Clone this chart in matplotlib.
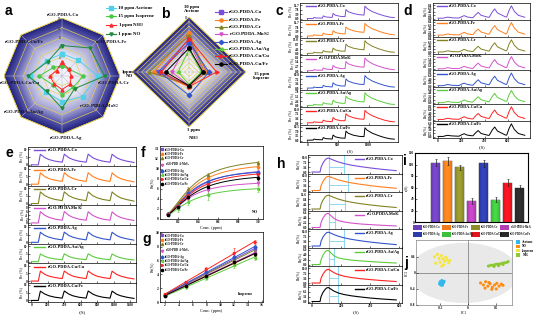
import numpy as np
import matplotlib
matplotlib.use('Agg')
import matplotlib.pyplot as plt
from matplotlib.patches import Polygon, Ellipse, Rectangle
from matplotlib.colors import LinearSegmentedColormap, to_rgb
from matplotlib.lines import Line2D

plt.rcParams['font.family'] = ['Liberation Serif', 'DejaVu Serif']
plt.rcParams['font.weight'] = 'bold'
plt.rcParams['mathtext.fontset'] = 'stix'
plt.rcParams['axes.linewidth'] = 0.5

# ======================= DATA =======================
sensors = ['rGO-PDDA-Co', 'rGO-PDDA-Fe', 'rGO-PDDA-Cr', 'rGO-PDDA-MoS$_2$',
           'rGO-PDDA-Ag', 'rGO-PDDA-Au/Ag', 'rGO-PDDA-Cu/Cu', 'rGO-PDDA-Cu/Fe']
colors = ['#7a4fd6', '#ff7f1e', '#828224', '#d452cc', '#3355cc', '#5ccc3c', '#ff2222', '#000000']
markers = ['s', 'o', '^', 'v', 'D', '<', '>', 'o']

# panel a : response of the 8 sensors to each gas
a_gases = ['10 ppm Acetone', '15 ppm Isoprene', '1 ppm NH$_3$', '1 ppm NO']
a_acetone = [4.6, 4.7, 7.4, 6.0, 5.3, 4.7, 6.7, 4.5]
a_isoprene = [2.1, 2.0, 4.4, 3.3, 3.9, 2.6, 4.7, 2.5]
a_nh3 = [2.8, 2.0, 1.9, 2.4, 2.8, 2.3, 2.5, 1.6]
a_no = [6.3, 8.2, 8.8, 3.7, 6.7, 4.5, 7.0, 4.2]
a_ticks = [2, 4, 6, 8, 10, 12]

# panel b : per sensor [Acetone, Isoprene, NH3, NO]
b_axes = ['10 ppm\nAcetone', '15 ppm\nIsoprene', '1 ppm\nNH$_3$', '1ppm\nNO']
b_resp = [[7.1, 3.8, 3.0, 6.5],
          [8.6, 3.5, 3.2, 7.4],
          [7.9, 3.2, 2.8, 8.4],
          [6.7, 3.0, 3.0, 3.6],
          [6.4, 4.2, 5.1, 6.2],
          [4.9, 2.6, 2.7, 2.3],
          [7.3, 5.8, 3.2, 5.8],
          [5.2, 2.9, 3.0, 4.9]]
b_ticks = [4, 6, 8, 10, 12]

# panel c : acetone dynamic response
c_time = [0, 95, 110, 140, 245, 260, 300, 405, 420, 460, 540, 615, 630, 665, 750, 850,
          925, 940, 975, 1060, 1160, 1260, 1350, 1420]
c_resp = [
    [0.3, 0.4, 1.3, 0.9, 0.7, 2.6, 1.7, 1.3, 4.7, 3.1, 2.2, 2.0, 8.0, 6.2, 4.6, 3.6, 3.3, 10.8, 8.8, 6.2, 4.2, 2.6, 1.5, 1.2],
    [0.3, 0.4, 1.4, 1.0, 0.8, 2.7, 1.8, 1.4, 4.8, 3.2, 2.3, 2.1, 7.9, 6.3, 4.7, 3.7, 3.4, 10.9, 8.9, 6.4, 4.4, 2.8, 1.7, 1.3],
    [0.3, 0.5, 1.5, 1.0, 0.8, 2.9, 1.9, 1.5, 5.3, 3.5, 2.5, 2.3, 9.0, 7.0, 5.2, 4.1, 3.7, 12.2, 9.9, 7.0, 4.7, 2.9, 1.7, 1.4],
    [0.2, 0.3, 0.9, 0.6, 0.5, 1.8, 1.2, 0.9, 3.3, 2.2, 1.5, 1.4, 5.6, 4.3, 3.2, 2.5, 2.3, 7.6, 6.2, 4.3, 2.9, 1.8, 1.1, 0.8],
    [0.3, 0.4, 1.2, 0.8, 0.7, 2.4, 1.6, 1.2, 4.4, 2.9, 2.0, 1.9, 7.4, 5.8, 4.3, 3.3, 3.1, 10.0, 8.2, 5.8, 3.9, 2.4, 1.4, 1.1],
    [0.2, 0.3, 0.9, 0.6, 0.5, 1.8, 1.2, 0.9, 3.2, 2.1, 1.5, 1.4, 5.4, 4.2, 3.1, 2.4, 2.2, 7.3, 6.0, 4.2, 2.9, 1.8, 1.0, 0.8],
    [0.3, 0.4, 1.2, 0.8, 0.7, 2.4, 1.6, 1.2, 4.4, 2.9, 2.0, 1.9, 7.4, 5.8, 4.3, 3.3, 3.1, 10.0, 8.2, 5.8, 3.9, 2.4, 1.4, 1.1],
    [0.3, 0.4, 1.2, 0.8, 0.6, 2.3, 1.5, 1.2, 4.2, 2.8, 2.0, 1.8, 7.2, 5.6, 4.1, 3.2, 3.0, 9.7, 7.9, 5.6, 3.8, 2.3, 1.4, 1.1]]
c_top = [11.7, 11.7, 13.0, 8.1, 10.8, 7.8, 10.8, 10.5]

# panel d : NO dynamic response
d_time = [0, 45, 65, 85, 105, 130, 180, 205, 225, 250, 290, 300, 325, 345, 370, 430, 440,
          465, 487, 510, 580, 590, 610, 630, 655, 690, 745]
d_resp = [
    [0.2, 0.2, 0.6, 0.9, 0.6, 0.4, 0.3, 1.2, 1.8, 1.0, 0.5, 0.5, 2.5, 3.8, 2.0, 0.8, 0.8, 4.0, 6.0, 3.5, 1.0, 1.0, 5.0, 7.9, 4.5, 2.0, 0.8],
    [0.2, 0.2, 0.6, 0.9, 0.6, 0.4, 0.3, 1.2, 1.9, 1.0, 0.5, 0.5, 2.6, 3.9, 2.1, 0.8, 0.8, 4.1, 6.1, 3.6, 1.0, 1.0, 5.1, 8.0, 4.6, 2.0, 0.8],
    [0.2, 0.2, 0.6, 0.9, 0.6, 0.4, 0.3, 1.1, 1.8, 1.0, 0.5, 0.5, 2.4, 3.7, 2.0, 0.8, 0.8, 3.9, 5.9, 3.4, 1.0, 1.0, 5.0, 7.8, 4.4, 1.9, 0.8],
    [0.2, 0.2, 0.5, 0.8, 0.5, 0.3, 0.3, 1.0, 1.5, 0.9, 0.4, 0.4, 2.1, 3.2, 1.7, 0.7, 0.7, 3.4, 5.1, 3.0, 0.9, 0.9, 4.3, 6.7, 3.8, 1.7, 0.7],
    [0.2, 0.2, 0.6, 0.9, 0.6, 0.4, 0.3, 1.2, 1.7, 1.0, 0.5, 0.5, 2.4, 3.7, 1.9, 0.8, 0.8, 3.9, 5.8, 3.4, 1.0, 1.0, 4.9, 7.7, 4.4, 1.9, 0.8],
    [0.1, 0.1, 0.4, 0.7, 0.4, 0.3, 0.2, 0.9, 1.4, 0.8, 0.4, 0.4, 1.9, 2.9, 1.5, 0.6, 0.6, 3.0, 4.5, 2.6, 0.8, 0.8, 3.8, 5.9, 3.4, 1.5, 0.6],
    [0.2, 0.2, 0.6, 0.9, 0.6, 0.4, 0.3, 1.2, 1.8, 1.0, 0.5, 0.5, 2.5, 3.7, 2.0, 0.8, 0.8, 3.9, 5.8, 3.4, 1.0, 1.0, 4.8, 7.7, 4.3, 1.9, 0.8],
    [0.1, 0.1, 0.4, 0.6, 0.4, 0.3, 0.2, 0.9, 1.3, 0.7, 0.4, 0.4, 1.8, 2.7, 1.4, 0.6, 0.6, 2.9, 4.3, 2.5, 0.7, 0.7, 3.6, 5.7, 3.2, 1.4, 0.6]]
d_top = [8.4, 8.4, 8.4, 7.2, 8.0, 6.4, 8.0, 6.0]

# panel e : repeatability
e_time = [0, 85, 110, 130, 165, 215, 285, 375, 400, 420, 455, 505, 575, 665, 690, 710,
          745, 795, 865, 955, 980, 1000, 1035, 1085, 1155, 1245]
e_resp = [
    [0, 0, 6.8, 6.0, 4.6, 3.4, 2.4, 1.7, 6.9, 6.0, 4.6, 3.4, 2.4, 1.7, 6.9, 6.0, 4.6, 3.4, 2.4, 1.7, 6.8, 6.0, 4.6, 3.4, 2.4, 1.5],
    [0, 0, 7.3, 6.4, 4.9, 3.6, 2.6, 1.8, 7.4, 6.5, 5.0, 3.7, 2.6, 1.8, 7.4, 6.5, 5.0, 3.7, 2.6, 1.8, 7.3, 6.4, 4.9, 3.6, 2.5, 1.5],
    [0, 0, 7.5, 6.6, 5.1, 3.8, 2.7, 1.9, 7.6, 6.7, 5.1, 3.8, 2.7, 1.9, 7.6, 6.7, 5.1, 3.8, 2.7, 1.9, 7.5, 6.6, 5.1, 3.7, 2.6, 1.6],
    [0, 0, 5.8, 5.1, 3.9, 2.9, 2.0, 1.4, 5.9, 5.2, 3.9, 2.9, 2.0, 1.4, 5.8, 5.1, 3.9, 2.9, 2.0, 1.4, 5.7, 5.0, 3.8, 2.8, 2.0, 1.3],
    [0, 0, 6.5, 5.7, 4.4, 3.3, 2.3, 1.6, 6.6, 5.8, 4.4, 3.3, 2.3, 1.6, 6.6, 5.8, 4.4, 3.3, 2.3, 1.6, 6.5, 5.7, 4.4, 3.2, 2.3, 1.4],
    [0, 0, 5.0, 4.4, 3.4, 2.5, 1.8, 1.3, 5.1, 4.5, 3.4, 2.5, 1.8, 1.3, 5.1, 4.5, 3.4, 2.5, 1.8, 1.3, 5.0, 4.4, 3.4, 2.5, 1.7, 1.1],
    [0, 0, 6.4, 5.6, 4.3, 3.2, 2.3, 1.6, 6.5, 5.7, 4.4, 3.2, 2.3, 1.6, 6.5, 5.7, 4.4, 3.2, 2.3, 1.6, 6.4, 5.6, 4.3, 3.2, 2.2, 1.4],
    [0, 0, 6.0, 5.3, 4.1, 3.0, 2.1, 1.5, 6.1, 5.4, 4.1, 3.0, 2.1, 1.5, 6.1, 5.4, 4.1, 3.0, 2.1, 1.5, 6.0, 5.3, 4.0, 3.0, 2.1, 1.3]]
e_ticks = [[0, 5, 10]] * 3 + [[0, 2, 4, 6, 8]] + [[0, 5, 10]] * 4

# panel f : NO calibration
f_conc = [0.1, 0.2, 0.3, 0.5, 1.0]
f_resp = [[1.0, 2.6, 5.0, 7.3, 9.5],
          [1.1, 2.9, 5.6, 8.2, 10.4],
          [1.2, 3.1, 6.0, 8.8, 11.3],
          [0.9, 2.3, 4.2, 5.8, 7.2],
          [1.0, 2.7, 5.2, 7.5, 9.3],
          [0.8, 2.0, 3.4, 4.8, 6.1],
          [1.0, 2.6, 4.8, 7.0, 9.0],
          [0.9, 2.4, 4.5, 6.5, 8.3]]
f_err = [[0.2, 0.3, 0.4, 0.5, 0.4],
         [0.2, 0.3, 0.4, 0.5, 0.4],
         [0.2, 0.3, 0.5, 0.5, 0.4],
         [0.2, 0.3, 0.4, 0.5, 0.4],
         [0.2, 0.3, 0.4, 0.5, 0.4],
         [0.2, 0.5, 0.5, 1.0, 0.6],
         [0.2, 0.3, 0.4, 0.5, 0.4],
         [0.2, 0.3, 0.4, 0.5, 0.4]]

# panel g : isoprene calibration
g_conc = [2, 5, 8, 12, 15]
g_resp = [[1.0, 2.6, 4.2, 6.3, 7.6],
          [0.9, 2.3, 3.8, 5.6, 6.9],
          [1.0, 2.5, 4.1, 6.1, 7.4],
          [0.9, 2.4, 3.9, 5.8, 7.0],
          [1.0, 2.7, 4.3, 6.5, 7.9],
          [0.8, 2.1, 3.5, 5.3, 6.4],
          [1.1, 2.9, 4.7, 7.0, 8.7],
          [0.9, 2.3, 3.8, 5.7, 6.9]]
g_err = [[0.1, 0.2, 0.3, 0.5, 0.3],
         [0.1, 0.2, 0.3, 0.4, 0.3],
         [0.1, 0.2, 0.3, 0.4, 0.3],
         [0.1, 0.2, 0.3, 0.4, 0.3],
         [0.1, 0.2, 0.3, 0.6, 0.3],
         [0.1, 0.2, 0.3, 0.4, 0.3],
         [0.1, 0.2, 0.4, 0.8, 0.3],
         [0.1, 0.2, 0.3, 0.4, 0.3]]

# panel h : single pulse / recovery
h_time = [0, 55, 62, 75, 90, 100, 112, 125, 150, 180, 220, 270, 330, 400, 480, 580]
h_resp = [
    [0, 0, 3.5, 6.5, 8.8, 9.8, 10.2, 9.7, 8.6, 7.4, 6.2, 5.0, 4.0, 3.0, 2.0, 1.0],
    [0, 0, 3.6, 6.6, 8.9, 9.9, 10.3, 9.9, 8.9, 7.8, 6.7, 5.6, 4.6, 3.6, 2.6, 1.6],
    [0, 0, 4.0, 7.5, 10.2, 11.3, 11.8, 11.2, 9.9, 8.5, 7.1, 5.8, 4.6, 3.5, 2.4, 1.3],
    [0, 0, 2.2, 4.2, 5.6, 6.1, 6.3, 5.6, 4.1, 3.1, 2.5, 2.0, 1.6, 1.3, 1.0, 0.7],
    [0, 0, 3.5, 6.5, 8.7, 9.7, 10.1, 9.6, 8.4, 7.2, 6.0, 4.9, 3.9, 2.9, 2.0, 1.0],
    [0, 0, 2.0, 3.8, 5.1, 5.6, 5.7, 5.0, 3.6, 2.7, 2.2, 1.8, 1.5, 1.2, 0.9, 0.6],
    [0, 0, 3.5, 6.4, 8.6, 9.6, 10.0, 9.3, 7.6, 6.2, 5.0, 4.0, 3.2, 2.5, 1.8, 1.1],
    [0, 0, 3.1, 5.7, 7.6, 8.5, 8.8, 8.1, 6.6, 5.4, 4.4, 3.6, 2.9, 2.2, 1.6, 1.0]]
h_top = [10.8, 10.8, 12.6, 6.6, 10.8, 6.0, 10.8, 9.3]
h_peak_t = 115
h_rec_t = [220, 248, 228, 159, 220, 152, 180, 180]
h_level = [3.8, 3.8, 4.4, 2.3, 3.7, 2.1, 3.7, 3.3]

# panel i : recovery time
i_tau = [103, 106, 95, 36, 102, 39, 68, 59]
i_err = [6, 7, 5, 5, 6, 5, 6, 6]
i_colors = ['#6b3fb8', '#f07a1a', '#8c8c2a', '#b43db4', '#2c3ca8', '#3cc03c', '#e4141e', '#2a2a2a']

# panel j : PCA
j_names = ['Acetone', 'NO', 'Isoprene', 'NH$_3$']
j_colors = ['#33b8ee', '#ff8c10', '#f5e63c', '#8cc832']
ac_x = [-0.50, -0.48, -0.46, -0.47, -0.45, -0.49, -0.44, -0.48, -0.46, -0.43, -0.51, -0.47]
ac_y = [-0.22, -0.25, -0.23, -0.28, -0.26, -0.30, -0.24, -0.27, -0.31, -0.21, -0.27, -0.19]
no_x = [0.22, 0.27, 0.31, 0.35, 0.39, 0.43, 0.47, 0.51, 0.55, 0.59, 0.62, 0.30, 0.42, 0.50, 0.37]
no_y = [-0.25, -0.30, -0.22, -0.33, -0.27, -0.36, -0.30, -0.26, -0.33, -0.28, -0.31, -0.38, -0.41, -0.40, -0.24]
is_x = [-0.60, -0.55, -0.52, -0.48, -0.45, -0.42, -0.38, -0.35, -0.58, -0.50, -0.44, -0.40, -0.33, -0.47]
is_y = [0.40, 0.46, 0.36, 0.43, 0.35, 0.29, 0.33, 0.25, 0.24, 0.27, 0.20, 0.39, 0.31, 0.17]
nh_x = [0.36, 0.40, 0.44, 0.48, 0.52, 0.56, 0.60, 0.64, 0.68, 0.71, 0.46, 0.54, 0.62]
nh_y = [0.17, 0.19, 0.19, 0.21, 0.22, 0.22, 0.24, 0.25, 0.26, 0.28, 0.16, 0.18, 0.21]

# ======================= FIGURE =======================
W, H = 546, 322
fig = plt.figure(figsize=(W / 100, H / 100), dpi=100)


def px_axes(x0, y0, x1, y1, **kw):
    return fig.add_axes([x0 / W, 1 - y1 / H, (x1 - x0) / W, (y1 - y0) / H], **kw)


radar_cmap = LinearSegmentedColormap.from_list(
    'rad', [(0, '#f8f8fd'), (0.4, '#e2e2f2'), (0.65, '#a8a8d6'), (0.85, '#5050a8'), (1.0, '#22227a')])


def radar(x0, y0, x1, y1, nv, rmax, ring_levels, tick_levels):
    ax = px_axes(x0, y0, x1, y1)
    ax.set_xlim(-1, 1)
    ax.set_ylim(-1, 1)
    ax.axis('off')
    ang = np.deg2rad(90 - 360.0 / nv * np.arange(nv))
    vx, vy = np.cos(ang), np.sin(ang)
    nrm = ang - np.pi / nv
    ap = np.cos(np.pi / nv)
    g = np.linspace(-1, 1, 400)
    X, Y = np.meshgrid(g, g)
    D = np.max([(X * np.cos(a) + Y * np.sin(a)) / ap for a in nrm], axis=0)
    im = ax.imshow(D, extent=(-1, 1, -1, 1), origin='lower', cmap=radar_cmap,
                   vmin=0, vmax=1, aspect='auto', interpolation='bilinear')
    poly = Polygon(np.column_stack([vx, vy]), closed=True, transform=ax.transData, fill=False,
                   edgecolor='#e6d24a', lw=0.5, zorder=2)
    ax.add_patch(poly)
    im.set_clip_path(poly)
    for lev in ring_levels:
        r = lev / rmax
        ax.plot(np.append(vx, vx[0]) * r, np.append(vy, vy[0]) * r, color='#e6d24a', lw=0.45, zorder=2)
    for k in range(nv):
        ax.plot([0, vx[k]], [0, vy[k]], color='#b8b8cc', lw=0.35, zorder=2)
    for lev in tick_levels:
        ax.text(-0.02, lev / rmax - 0.02, str(lev), fontsize=2.2, ha='right', va='center',
                color='#333355', zorder=3)
    return ax, vx, vy


# ---- panel a ----
ax_a, vxa, vya = radar(4, 18, 120, 134, 8, 12.0, [2, 4, 6, 8, 10, 12], a_ticks)
a_series = [a_acetone, a_isoprene, a_nh3, a_no]
a_cols = ['#52d0e8', '#46c846', '#ff2a2a', '#1f8a3c']
a_mk = ['s', 'o', '^', 'v']
for vals, c, m in zip(a_series, a_cols, a_mk):
    r = np.array(vals) / 12.0
    xs = np.append(r * vxa, r[0] * vxa[0])
    ys = np.append(r * vya, r[0] * vya[0])
    ax_a.plot(xs, ys, color=c, lw=0.7, marker=m, ms=2.2, zorder=5)

# ---- panel b ----
ax_b, vxb, vyb = radar(132, 17, 246, 127, 4, 12.0, list(range(1, 13)), b_ticks)
for i, vals in enumerate(b_resp):
    r = np.array(vals) / 12.0
    xs = np.append(r * vxb, r[0] * vxb[0])
    ys = np.append(r * vyb, r[0] * vyb[0])
    ax_b.plot(xs, ys, color=colors[i], lw=0.7, marker=markers[i], ms=2.3, zorder=5)


# ---- stacked row helpers ----
def stack_axes(x0, x1, y0, y1, n):
    h = (y1 - y0) / n
    return [px_axes(x0, y0 + i * h, x1, y0 + (i + 1) * h) for i in range(n)]


def row_style(ax, yt, fmt, ylab, last, xt, xl, top):
    ax.set_xlim(*xl)
    ax.set_ylim(-0.1 * top, 1.15 * top)
    ax.set_yticks(yt)
    ax.set_yticklabels([fmt.format(v) for v in yt])
    ax.set_xticks(xt)
    ax.tick_params(direction='in', length=1.2, width=0.4, pad=0.6, labelsize=2.4)
    if not last:
        ax.tick_params(labelbottom=False)
    ax.set_ylabel(ylab, fontsize=2.8, labelpad=0.6)
    for s in ax.spines.values():
        s.set_linewidth(0.5)


def row_legend(ax, label, color, x0, y0, fs=3.0):
    ax.plot([x0, x0 + 0.1], [y0, y0], transform=ax.transAxes, color=color, lw=1.0)
    ax.text(x0 + 0.12, y0, label, transform=ax.transAxes, fontsize=fs, va='center', ha='left')


# ---- panel c ----
ax_c = stack_axes(300, 398, 3, 142, 8)
for i, ax in enumerate(ax_c):
    ax.plot(c_time, c_resp[i], color=colors[i], lw=0.7)
    row_style(ax, np.linspace(0, c_top[i], 4), '{:.1f}', 'Re (%)', i == 7, [0, 500, 1000],
              (-120, 1480), c_top[i])
    row_legend(ax, sensors[i], colors[i], 0.06, 0.8)
ax_c[-1].set_xlabel('t(S)', fontsize=3.2, labelpad=1.5)

# ---- panel d ----
ax_d = stack_axes(433, 530, 3, 138, 8)
for i, ax in enumerate(ax_d):
    ax.plot(d_time, d_resp[i], color=colors[i], lw=0.7)
    row_style(ax, np.linspace(0, d_top[i], 5), '{:.1f}', 'Re(%)', i == 7, [0, 200, 400, 600],
              (-43, 790), d_top[i])
    row_legend(ax, sensors[i], colors[i], 0.04, 0.82)
ax_d[-1].set_xlabel('t(S)', fontsize=3.2, labelpad=1.5)

# ---- panel e ----
ax_e = stack_axes(28, 136, 147, 302, 8)
for i, ax in enumerate(ax_e):
    ax.plot(e_time, e_resp[i], color=colors[i], lw=0.8)
    top = 10.0 if e_ticks[i][-1] == 10 else 8.0
    row_style(ax, e_ticks[i], '{:d}', 'Re (%)', i == 7, [0, 200, 400, 600, 800, 1000, 1200],
              (-40, 1270), top)
    row_legend(ax, sensors[i], colors[i], 0.06, 0.83, fs=3.2)
ax_e[-1].set_xlabel('t(S)', fontsize=3.4, labelpad=2)


# ---- calibration helper ----
def hill_fit(x, y):
    x = np.asarray(x, float)
    y = np.asarray(y, float)
    best = None
    for K in np.linspace(0.1, 1.5, 71):
        for n in np.linspace(0.8, 3.0, 23):
            gg = x ** n / (K ** n + x ** n)
            V = (gg @ y) / (gg @ gg)
            err = ((V * gg - y) ** 2).sum()
            if best is None or err < best[0]:
                best = (err, V, K, n)
    return best[1:]


def cal_style(ax, xl, yl, xt, yt):
    ax.set_xlim(*xl)
    ax.set_ylim(*yl)
    ax.set_xticks(xt)
    ax.set_yticks(yt)
    ax.tick_params(direction='in', length=1.3, width=0.4, pad=0.8, labelsize=2.6)
    ax.set_xlabel('Conc. (ppm)', fontsize=3.2, labelpad=1.2)
    ax.set_ylabel('Re(%)', fontsize=3.0, labelpad=1.0)


# ---- panel f ----
ax_f = px_axes(160, 146, 263, 219)
xf = np.linspace(min(f_conc), max(f_conc), 100)
for i in range(8):
    V, K, n = hill_fit(f_conc, f_resp[i])
    ax_f.plot(xf, V * xf ** n / (K ** n + xf ** n), color=colors[i], lw=0.7)
    ax_f.errorbar(f_conc, f_resp[i], yerr=f_err[i], fmt=markers[i], color=colors[i], ms=1.6,
                  elinewidth=0.4, capsize=0.6, capthick=0.4)
cal_style(ax_f, (0.02, 1.05), (0, 14.6), [0.2, 0.4, 0.6, 0.8, 1.0], list(range(0, 15, 2)))
ax_f.set_xticklabels(['0.2', '0.4', '0.6', '0.8', '1.0'])
ax_f.text(0.95, 0.1, 'NO', transform=ax_f.transAxes, fontsize=3.0, ha='right', va='center')
hand = [Line2D([], [], marker=markers[i], color=colors[i], ls='none', ms=1.6) for i in range(8)]
ax_f.legend(hand, sensors, loc='upper left', fontsize=2.2, frameon=False, handlelength=0.6,
            labelspacing=0.12, borderpad=0.3, handletextpad=0.4, borderaxespad=0.2)

# ---- panel g ----
ax_g = px_axes(160, 232, 263, 302)
xg = np.linspace(min(g_conc), max(g_conc), 50)
for i in range(8):
    p = np.polyfit(g_conc, g_resp[i], 1)
    ax_g.plot(xg, np.polyval(p, xg), color=colors[i], lw=0.7)
    ax_g.errorbar(g_conc, g_resp[i], yerr=g_err[i], fmt=markers[i], color=colors[i], ms=1.6,
                  elinewidth=0.4, capsize=0.6, capthick=0.4)
cal_style(ax_g, (1.3, 16.2), (0, 10.1), list(range(2, 17, 2)), list(range(0, 11, 2)))
ax_g.text(0.9, 0.12, 'Isoprene', transform=ax_g.transAxes, fontsize=3.0, ha='right', va='center')
ax_g.legend(hand, sensors, loc='upper left', fontsize=2.2, frameon=False, handlelength=0.6,
            labelspacing=0.12, borderpad=0.3, handletextpad=0.4, borderaxespad=0.2)

# ---- panel h ----
ax_h = stack_axes(308, 402, 155, 303, 8)
for i, ax in enumerate(ax_h):
    ax.plot(h_time, h_resp[i], color=colors[i], lw=0.8, zorder=3)
    ax.axvline(h_peak_t, color='#8fd8ef', lw=0.8, zorder=2)
    ax.axvline(h_rec_t[i], color='#8fd8ef', lw=0.8, zorder=2)
    ax.plot([h_peak_t, h_rec_t[i]], [h_level[i], h_level[i]], color='#8fd8ef', lw=0.7, zorder=2)
    row_style(ax, np.linspace(0, h_top[i], 4), '{:.1f}', 'Re(%)', i == 7, [0, 200, 400, 600],
              (-28, 620), h_top[i])
    row_legend(ax, sensors[i], colors[i], 0.5, 0.78)
ax_h[-1].set_xlabel('t(S)', fontsize=3.2, labelpad=1.8)

# ---- panel i ----
ax_i = px_axes(415, 153, 528, 222)
xi = np.arange(len(i_tau))
bars = ax_i.bar(xi, i_tau, width=0.75, color=i_colors, edgecolor='#222222', lw=0.3,
                yerr=i_err, error_kw=dict(lw=0.5, capsize=0.8, capthick=0.4, ecolor='#222222'))
# shaded (gradient) look of the bars
prof = 0.55 + 0.45 * np.sin(np.linspace(0.15, np.pi - 0.15, 40))
for b, c in zip(bars, i_colors):
    rgb = np.array(to_rgb(c))
    img = np.clip(rgb[None, None, :] * (0.55 + 0.6 * prof[None, :, None]), 0, 1)
    x0, y0 = b.get_x(), b.get_y()
    im = ax_i.imshow(img, extent=(x0, x0 + b.get_width(), y0, y0 + b.get_height()),
                     aspect='auto', zorder=b.get_zorder() + 0.1, interpolation='bilinear')
    im.set_clip_path(b)
ax_i.set_xlim(-1.75, 7.67)
ax_i.set_ylim(0, 120)
ax_i.set_yticks(range(0, 121, 20))
ax_i.set_yticklabels([str(v) for v in range(0, 121, 20)])
ax_i.set_xticks([])
ax_i.tick_params(direction='in', length=1.2, width=0.4, pad=0.6, labelsize=2.4)
ax_i.set_ylabel('τ(S)', fontsize=3.0, labelpad=0.8)
for s in ax_i.spines.values():
    s.set_linewidth(0.8)

# ---- panel j ----
ax_j = px_axes(416, 240, 512, 305)
ax_j.add_patch(Ellipse((-0.08, 0.0), 1.95, 1.5, color='#e9e9e9', lw=0, zorder=0))
ax_j.axhline(0, color='#555555', lw=0.4, zorder=1)
ax_j.axvline(0, color='#555555', lw=0.4, zorder=1)
for xs, ys, c in zip([ac_x, no_x, is_x, nh_x], [ac_y, no_y, is_y, nh_y], j_colors):
    ax_j.scatter(xs, ys, s=5, color=c, edgecolors='none', zorder=3)
ax_j.set_xlim(-0.93, 0.78)
ax_j.set_ylim(-0.8, 0.82)
ax_j.set_xticks([-0.5, 0, 0.5])
ax_j.set_xticklabels(['-0.5', '0', '0.5'])
ax_j.set_yticks([-0.8, -0.4, 0, 0.4])
ax_j.set_yticklabels(['-0.8', '-0.4', '0', '0.4'])
ax_j.tick_params(direction='in', length=1.2, width=0.4, pad=0.6, labelsize=2.4)
ax_j.set_xlabel('PC1', fontsize=2.6, labelpad=1.0)
ax_j.set_ylabel('PC2', fontsize=2.6, labelpad=0.6)
for s in ax_j.spines.values():
    s.set_linewidth(0.4)
    s.set_color('#666666')

# ======================= overlay (labels & legends) =======================
ov = fig.add_axes([0, 0, 1, 1], zorder=50)
ov.set_xlim(0, W)
ov.set_ylim(H, 0)
ov.axis('off')

for lab, (x, y) in zip('abcdefghij', [(5, 11), (161, 14), (276, 11), (403, 11), (6, 153),
                                      (141, 153), (142, 239), (277, 164), (403, 161), (404, 263)]):
    ov.text(x, y, lab, fontsize=10, fontfamily='Liberation Sans', fontweight='bold',
            ha='left', va='center')

# panel a vertex labels
a_lab_pos = [(63, 15), (112, 42), (114, 83), (99, 106), (66, 138), (24, 112), (20, 83), (24, 42)]
for s, (x, y) in zip(sensors, a_lab_pos):
    ov.text(x, y, s, fontsize=3.5, ha='center', va='center', color='#111122')
# panel a legend
for k, (g, c, m) in enumerate(zip(a_gases, a_cols, a_mk)):
    y = [7.5, 16, 25, 34][k]
    ov.plot([106, 116], [y, y], color=c, lw=0.8)
    ov.plot([111], [y], marker=m, color=c, ms=2.2)
    ov.text(118, y, g, fontsize=3.6, va='center', ha='left')

# panel b axis labels and legend
for txt, (x, y, ha) in zip(b_axes, [(192, 9, 'center'), (262, 76, 'center'),
                                    (193, 135, 'center'), (133, 74, 'right')]):
    ov.text(x, y, txt, fontsize=3.4, ha=ha, va='center', linespacing=1.3)
for i in range(8):
    y = [12, 20, 27, 34, 41.5, 49, 56, 63.5][i]
    ov.plot([215, 227], [y, y], color=colors[i], lw=0.8)
    ov.plot([221], [y], marker=markers[i], color=colors[i], ms=2.2)
    ov.text(229, y, sensors[i], fontsize=3.6, va='center', ha='left')

# panel i legend
for i in range(8):
    col, row = i % 4, i // 4
    x = [413, 442, 471, 500][col]
    y = [225, 232][row]
    ov.add_patch(Rectangle((x, y), 9, 4.5, color=i_colors[i], lw=0))
    ov.text(x + 10, y + 2.3, sensors[i], fontsize=1.9, va='center', ha='left')

# panel j legend
for k in range(4):
    y = 242 + 4.3 * k
    ov.add_patch(Rectangle((516, y - 1.6), 4, 3.2, color=j_colors[k], lw=0))
    ov.text(521.5, y, j_names[k], fontsize=2.3, va='center', ha='left')

fig.savefig('out.png', dpi=100)
